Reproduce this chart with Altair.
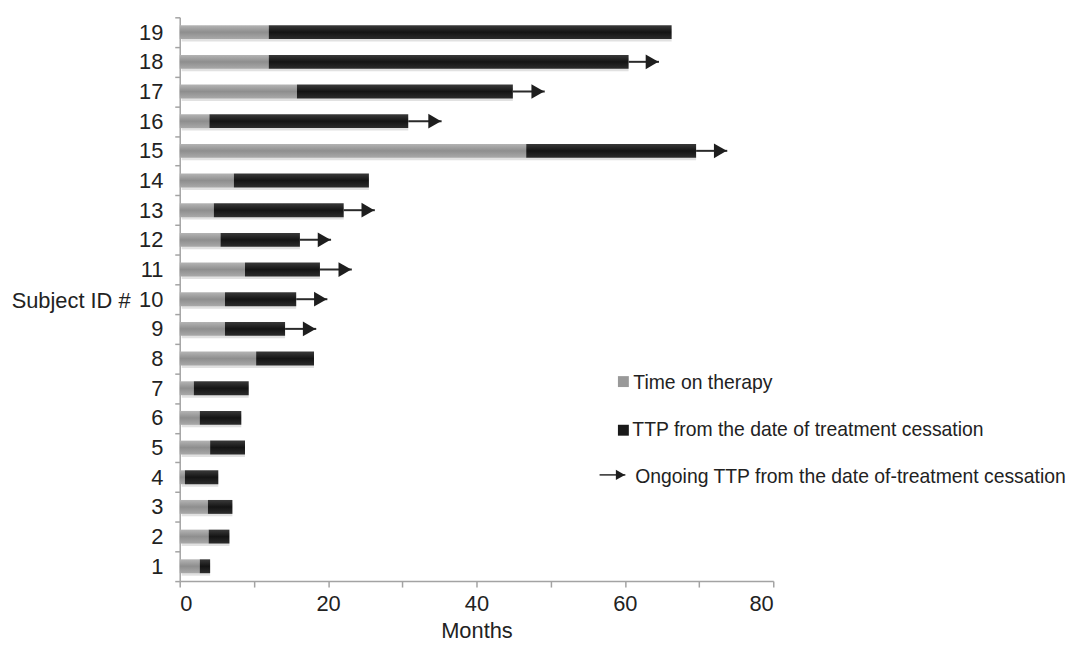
import altair as alt
import pandas as pd

# ---- data ----
subject_ids = list(range(1, 20))
time_on_therapy = [2.7, 3.9, 3.8, 0.7, 4.1, 2.7, 1.9, 10.3, 6.1, 6.1,
                   8.8, 5.5, 4.6, 7.3, 46.7, 4.0, 15.8, 12.0, 12.0]
ttp_end = [4.1, 6.7, 7.1, 5.2, 8.8, 8.3, 9.3, 18.1, 14.2, 15.7,
           18.9, 16.2, 22.1, 25.5, 69.6, 30.8, 44.9, 60.5, 66.3]
ongoing_end = [None, None, None, None, None, None, None, None, 18.4, 19.9,
               23.2, 20.4, 26.3, None, 73.8, 35.3, 49.2, 64.6, None]

legend_labels = ["Time on therapy",
                 "TTP from the date of treatment cessation",
                 "Ongoing TTP from the date of-treatment cessation"]

FONT = "Liberation Sans"
TXT = "#222222"
AX = "#a3a3a3"
AXFS = 22
LGFS = 19.5

df = pd.DataFrame({"id": subject_ids, "therapy": time_on_therapy,
                   "total": ttp_end, "arrow": ongoing_end})
arr = df.dropna(subset=["arrow"])

gray_grad = alt.Gradient(gradient="linear", x1=0, x2=0, y1=0, y2=1,
                         stops=[alt.GradientStop(color="#b4b4b4", offset=0),
                                alt.GradientStop(color="#8e8e8e", offset=0.5),
                                alt.GradientStop(color="#a9a9a9", offset=1)])
black_grad = alt.Gradient(gradient="linear", x1=0, x2=0, y1=0, y2=1,
                          stops=[alt.GradientStop(color="#3a3a3a", offset=0),
                                 alt.GradientStop(color="#141414", offset=0.5),
                                 alt.GradientStop(color="#2c2c2c", offset=1)])

xscale = alt.Scale(domain=[0, 80], nice=False)
yscale = alt.Scale(paddingInner=0, paddingOuter=0)
ysort = list(reversed(subject_ids))

xaxis = alt.Axis(title="Months", values=list(range(0, 81, 10)),
                 labelExpr="datum.value % 20 == 0 ? datum.label : ''",
                 grid=False, tickSize=6, labelPadding=7, titlePadding=6,
                 labelFontSize=AXFS, titleFontSize=AXFS, labelColor=TXT, titleColor=TXT,
                 titleFontWeight="normal", domainColor=AX, tickColor=AX,
                 domainWidth=1.5, tickWidth=1.5, labelFont=FONT, titleFont=FONT)
yaxis = alt.Axis(title="Subject ID #", titleAngle=0, titleAlign="right",
                 titleBaseline="middle", titleX=-50, titleY=285,
                 grid=False, tickBand="extent", tickSize=5, labelPadding=12,
                 labelFontSize=AXFS, titleFontSize=AXFS, labelColor=TXT, titleColor=TXT,
                 titleFontWeight="normal", domainColor=AX, tickColor=AX,
                 domainWidth=1.5, tickWidth=1.5, labelFont=FONT, titleFont=FONT)

base = alt.Chart(df)
Y = alt.Y("id:O", sort=ysort, scale=yscale, axis=yaxis)

shadow = base.mark_bar(size=13, color="#c8c8c8", opacity=0.55, xOffset=2, yOffset=3).encode(
    x=alt.X("zero:Q", scale=xscale, axis=xaxis), x2="total:Q", y=Y
).transform_calculate(zero="0")

gray = base.mark_bar(size=14, color=gray_grad).encode(
    x=alt.X("zero:Q", scale=xscale, axis=xaxis), x2="therapy:Q", y=Y
).transform_calculate(zero="0")

black = base.mark_bar(size=14, color=black_grad).encode(
    x=alt.X("therapy:Q", scale=xscale, axis=xaxis), x2="total:Q", y=Y
)

arrow_line = alt.Chart(arr).mark_rule(color="#2a2a2a", strokeWidth=2).encode(
    x=alt.X("total:Q", scale=xscale, axis=xaxis), x2="arrow:Q", y=Y
)
arrow_head = alt.Chart(arr).mark_point(shape="triangle-right", size=220, filled=True,
                                       color="#1e1e1e", opacity=1, xOffset=-7).encode(
    x=alt.X("arrow:Q", scale=xscale, axis=xaxis), y=Y
)

# ---- manual legend ----
one = pd.DataFrame({"k": [0]})
leg_sq1 = alt.Chart(one).mark_square(size=121, color="#999999", opacity=1).encode(
    x=alt.value(447), y=alt.value(367))
leg_sq2 = alt.Chart(one).mark_square(size=121, color="#1a1a1a", opacity=1).encode(
    x=alt.value(447), y=alt.value(416))
leg_line = alt.Chart(one).mark_rule(color="#2a2a2a", strokeWidth=1.5).encode(
    x=alt.value(423), x2=alt.value(449), y=alt.value(461))
leg_head = alt.Chart(one).mark_point(shape="triangle-right", size=110, filled=True,
                                     color="#1e1e1e", opacity=1, xOffset=-5).encode(
    x=alt.value(449), y=alt.value(461))
leg_t1 = alt.Chart(one).mark_text(align="left", baseline="middle", fontSize=LGFS,
                                  font=FONT, color=TXT).encode(
    x=alt.value(457), y=alt.value(368), text=alt.value(legend_labels[0]))
leg_t2 = alt.Chart(one).mark_text(align="left", baseline="middle", fontSize=LGFS,
                                  font=FONT, color=TXT).encode(
    x=alt.value(456), y=alt.value(416), text=alt.value(legend_labels[1]))
leg_t3 = alt.Chart(one).mark_text(align="left", baseline="middle", fontSize=LGFS,
                                  font=FONT, color=TXT).encode(
    x=alt.value(459), y=alt.value(463), text=alt.value(legend_labels[2]))

chart = alt.layer(shadow, gray, black, arrow_line, arrow_head,
                  leg_sq1, leg_sq2, leg_line, leg_head, leg_t1, leg_t2, leg_t3).properties(
    width=598, height=568,
    autosize=alt.AutoSizeParams(type="none"),
    padding={"left": 173, "top": 7, "right": 304, "bottom": 63},
).configure(font=FONT).configure_view(stroke=None, strokeWidth=0)

chart.save("out.html", embed_options={"renderer": "svg", "actions": False})
